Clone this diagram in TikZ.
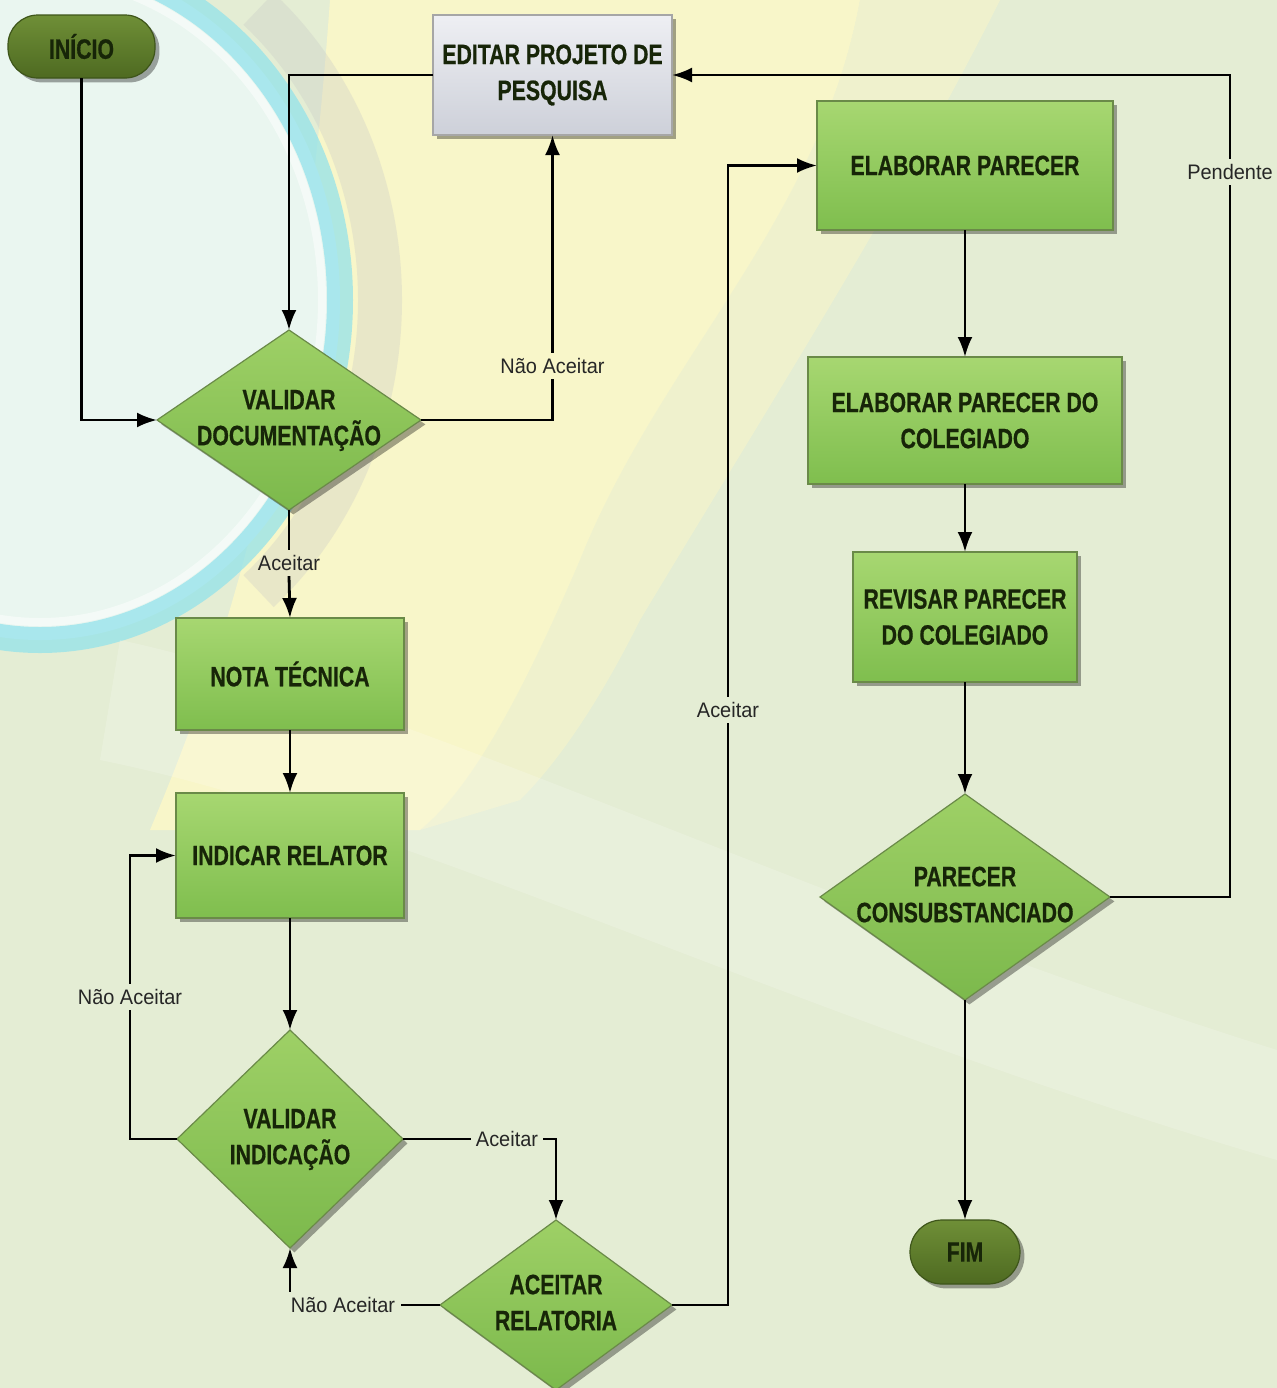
\documentclass[tikz,border=0pt]{standalone}
\usepackage{fontspec}
\setmainfont{Liberation Sans}
\newfontfamily\boxfont{Liberation Sans}[FakeStretch=0.76,FakeBold=0.6]
\newfontfamily\lblfont{Liberation Sans}[FakeStretch=0.95]
\usetikzlibrary{shapes.geometric,arrows.meta,shadows,calc}
\definecolor{bgbase}{HTML}{E4EDD4}
\definecolor{ylw}{HTML}{FBF7C8}
\definecolor{lensc}{HTML}{EAF6F0}
\definecolor{cyanc}{HTML}{8EE2EC}
\definecolor{gtop}{HTML}{A7D771}
\definecolor{gbot}{HTML}{7FBE4E}
\definecolor{dtop}{HTML}{9ED066}
\definecolor{dbot}{HTML}{7CB94C}
\definecolor{gedge}{HTML}{6A8A48}
\definecolor{txt}{HTML}{172508}
\definecolor{oltop}{HTML}{6F8F37}
\definecolor{olbot}{HTML}{4E6A21}
\definecolor{grtop}{HTML}{EEEFF3}
\definecolor{grbot}{HTML}{CDD0D9}
\newcommand\dtxt[1]{\makebox[0pt]{\begin{tabular}{@{}c@{}}#1\end{tabular}}}
\tikzset{
  shad/.style={drop shadow={shadow xshift=2.2pt,shadow yshift=-2.2pt,opacity=0.35,fill=black}},
  nfont/.style={font=\boxfont\bfseries\fontsize{14}{18}\selectfont, text=txt, align=center},
  gbox/.style={shad, rectangle, draw=gedge, line width=0.6pt, top color=gtop, bottom color=gbot, nfont, inner sep=0pt, outer sep=0pt},
  graybox/.style={gbox, draw=gray!70, top color=grtop, bottom color=grbot},
  pill/.style={shad, rectangle, rounded corners=15pt, draw=olbot!80!black, line width=0.6pt, top color=oltop, bottom color=olbot, nfont, inner sep=0pt, outer sep=0pt},
  dia/.style={shad, diamond, draw=gedge, line width=0.6pt, top color=dtop, bottom color=dbot, nfont, inner sep=0pt, outer sep=0pt},
  lbl/.style={font=\lblfont\fontsize{10.5}{12}\selectfont, text=black!85, inner sep=2.5pt},
  lin/.style={line width=1.4pt, black},
  conn/.style={lin, -{Latex[length=10pt,width=7.5pt]}},
}
\begin{document}
\begin{tikzpicture}[x=0.5pt,y=-0.5pt]
\useasboundingbox (0,0) rectangle (1277,1388);
\clip (0,0) rectangle (1277,1388);
% ---- background ----
\fill[bgbase] (0,0) rectangle (1277,1388);
\fill[ylw, opacity=0.9] (330,0) -- (860,0) .. controls (820,220) and (660,360) .. (580,560)
   .. controls (520,700) and (470,790) .. (420,830) -- (150,830)
   .. controls (230,640) and (300,420) .. (330,0) -- cycle;
\fill[ylw!70!bgbase, opacity=0.7] (860,0) -- (1000,0) .. controls (900,200) and (760,420) .. (640,620)
   .. controls (600,700) and (560,760) .. (520,800) -- (420,830)
   .. controls (470,790) and (520,700) .. (580,560) .. controls (660,360) and (820,220) .. (860,0) -- cycle;
\fill[lensc] (40,300) ellipse [x radius=300, y radius=340];
\draw[gray!45, opacity=0.3, line width=22pt] (40,300) ++(-50:340 and 380) arc [start angle=-50, end angle=50, x radius=340, y radius=380];
\draw[cyanc, opacity=0.7, line width=13pt] (40,300) ellipse [x radius=300, y radius=340];
\draw[white, opacity=0.5, line width=4pt] (40,300) ellipse [x radius=282, y radius=322];
\fill[white, opacity=0.18] (120,640) .. controls (400,700) and (800,900) .. (1277,1050) -- (1277,1160)
   .. controls (800,1020) and (400,820) .. (100,760) -- cycle;
% ---- nodes ----
\node[pill, minimum width=73.5pt, minimum height=31.5pt] (ini) at (81.5,46.5) {IN\'ICIO};
\node[graybox, minimum width=119.5pt, minimum height=60pt] (ed) at (552.5,75) {EDITAR PROJETO DE\\PESQUISA};
\node[dia, minimum width=132pt, minimum height=90pt] (vd) at (289,420) {\dtxt{VALIDAR\\DOCUMENTA\c{C}\~AO}};
\node[gbox, minimum width=114pt, minimum height=56pt] (nt) at (290,674) {NOTA T\'ECNICA};
\node[gbox, minimum width=114pt, minimum height=62.5pt] (ir) at (290,855.5) {INDICAR RELATOR};
\node[dia, minimum width=113pt, minimum height=109pt] (vi) at (290,1139) {\dtxt{VALIDAR\\INDICA\c{C}\~AO}};
\node[dia, minimum width=116pt, minimum height=85pt] (ar) at (556,1305) {\dtxt{ACEITAR\\RELATORIA}};
\node[gbox, minimum width=148pt, minimum height=64.5pt] (ep) at (965,165.5) {ELABORAR PARECER};
\node[gbox, minimum width=157pt, minimum height=63.5pt] (ec) at (965,420.5) {ELABORAR PARECER DO\\COLEGIADO};
\node[gbox, minimum width=112pt, minimum height=65pt] (rv) at (965,617) {REVISAR PARECER\\DO COLEGIADO};
\node[dia, minimum width=145pt, minimum height=103pt] (pc) at (965,897) {\dtxt{PARECER\\CONSUBSTANCIADO}};
\node[pill, minimum width=55pt, minimum height=32pt, rounded corners=16pt] (fim) at (965,1252) {FIM};
% ---- labels ----
\node[lbl] (lna1) at (552.5,366) {N\~ao Aceitar};
\node[lbl] (la1) at (289,563) {Aceitar};
\node[lbl] (lna2) at (130,997) {N\~ao Aceitar};
\node[lbl] (la3) at (507,1139) {Aceitar};
\node[lbl] (lna3) at (343,1305) {N\~ao Aceitar};
\node[lbl] (la4) at (728,710) {Aceitar};
\node[lbl] (lp) at (1230,172) {Pendente};
% ---- connectors ----
\draw[conn] (ini.south) |- (vd.west);
\draw[conn] (ed.west) -| (vd.north);
\draw[lin] (vd.east) -| (lna1.south);
\draw[conn] (lna1.north) -- (ed.south);
\draw[lin] (vd.south) -- (la1.north);
\draw[conn] (la1.south) -- (nt.north);
\draw[conn] (nt.south) -- (ir.north);
\draw[conn] (ir.south) -- (vi.north);
\draw[lin] (vi.west) -| (lna2.south);
\draw[conn] (lna2.north) |- (ir.west);
\draw[lin] (vi.east) -- (la3.west);
\draw[conn] (la3.east) -| (ar.north);
\draw[lin] (ar.west) -- (lna3.east);
\draw[conn] (lna3.north -| vi.south) -- (vi.south);
\draw[lin] (ar.east) -| (la4.south);
\draw[conn] (la4.north) |- (ep.west);
\draw[conn] (ep.south) -- (ec.north);
\draw[conn] (ec.south) -- (rv.north);
\draw[conn] (rv.south) -- (pc.north);
\draw[conn] (pc.south) -- (fim.north);
\draw[lin] (pc.east) -| (lp.south);
\draw[conn] (lp.north) |- (ed.east);
\end{tikzpicture}
\end{document}
